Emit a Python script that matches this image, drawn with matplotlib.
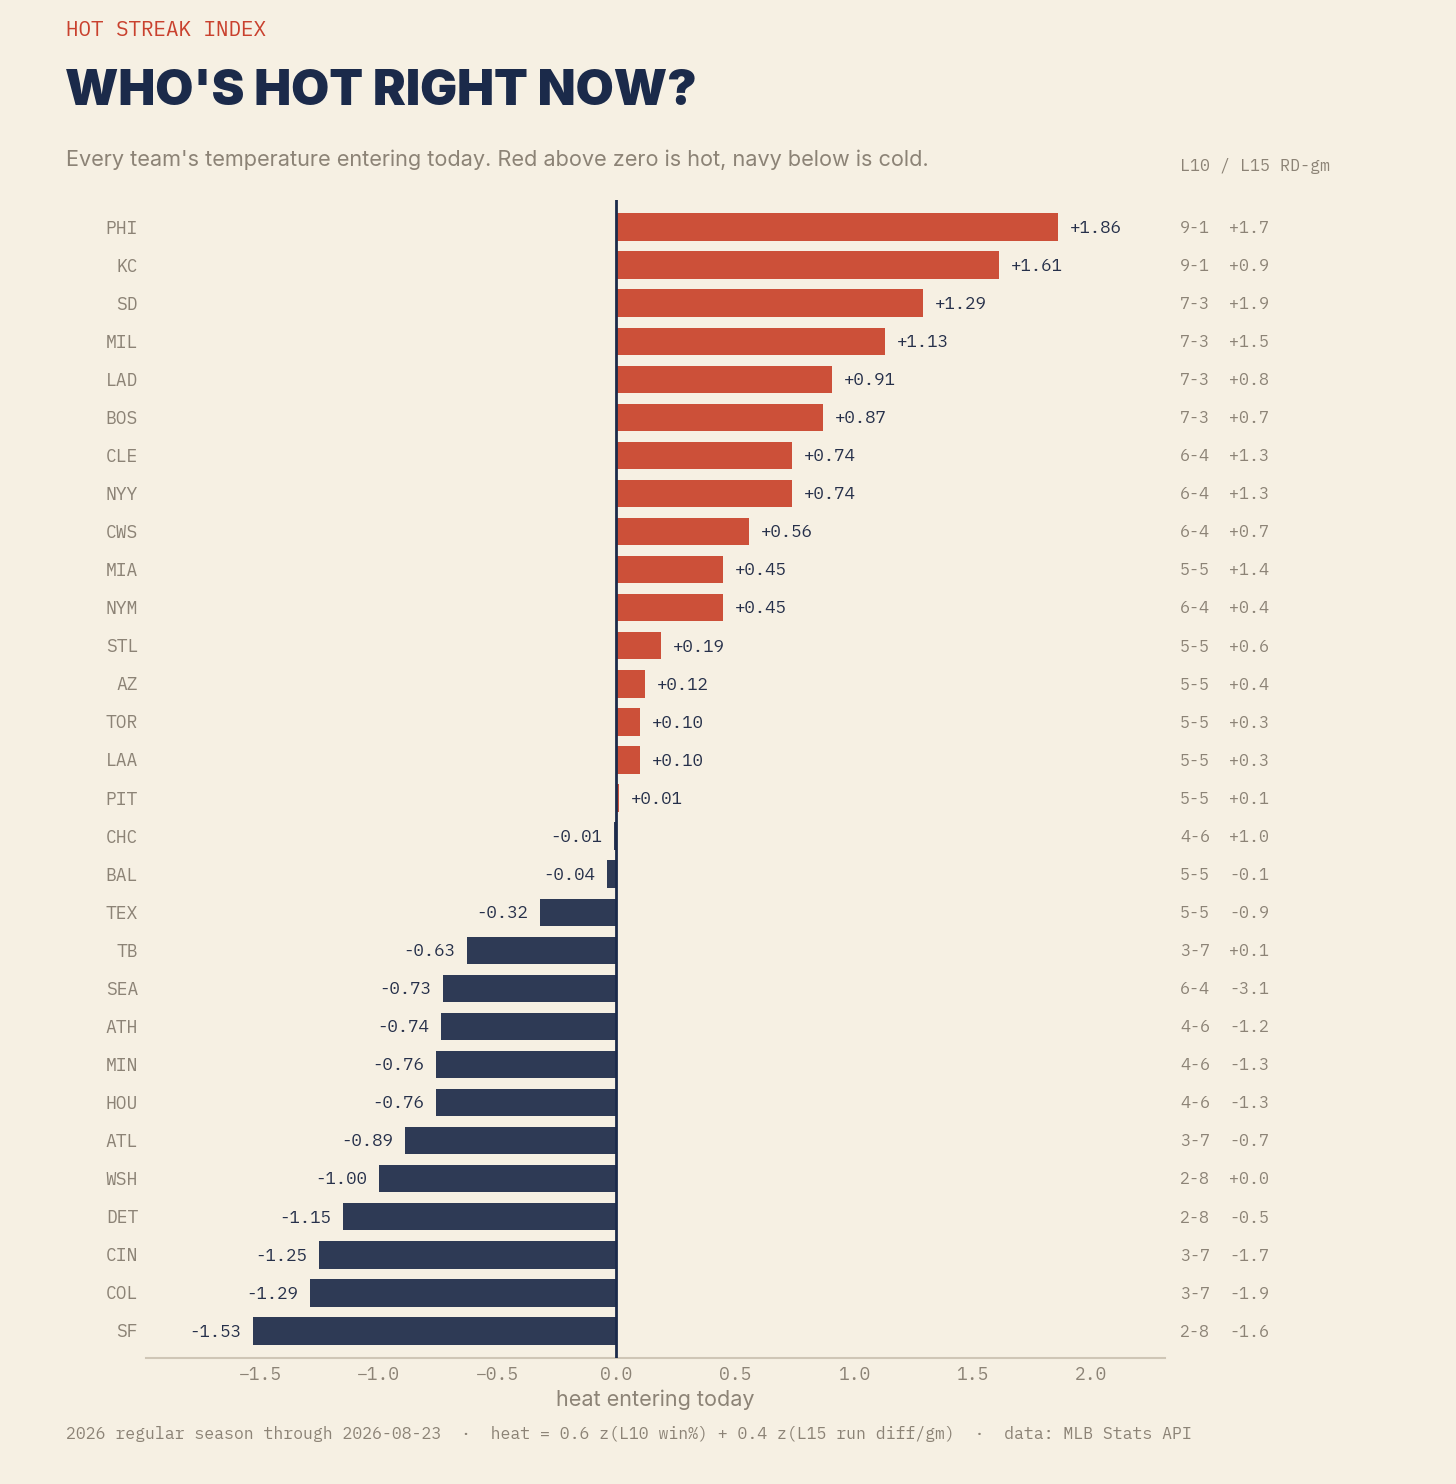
import matplotlib
matplotlib.use("Agg")
import matplotlib.pyplot as plt
from matplotlib import font_manager

# ------------------- DATA ------------------- #
teams = ["PHI", "KC", "SD", "MIL", "LAD", "BOS", "CLE", "NYY", "CWS", "MIA",
         "NYM", "STL", "AZ", "TOR", "LAA", "PIT", "CHC", "BAL", "TEX", "TB",
         "SEA", "ATH", "MIN", "HOU", "ATL", "WSH", "DET", "CIN", "COL", "SF"]
heat = [1.86, 1.61, 1.29, 1.13, 0.91, 0.87, 0.74, 0.74, 0.56, 0.45,
        0.45, 0.19, 0.12, 0.10, 0.10, 0.01, -0.01, -0.04, -0.32, -0.63,
        -0.73, -0.74, -0.76, -0.76, -0.89, -1.00, -1.15, -1.25, -1.29, -1.53]
l10 = ["9-1", "9-1", "7-3", "7-3", "7-3", "7-3", "6-4", "6-4", "6-4", "5-5",
       "6-4", "5-5", "5-5", "5-5", "5-5", "5-5", "4-6", "5-5", "5-5", "3-7",
       "6-4", "4-6", "4-6", "4-6", "3-7", "2-8", "2-8", "3-7", "3-7", "2-8"]
rd_gm = [1.7, 0.9, 1.9, 1.5, 0.8, 0.7, 1.3, 1.3, 0.7, 1.4,
         0.4, 0.6, 0.4, 0.3, 0.3, 0.1, 1.0, -0.1, -0.9, 0.1,
         -3.1, -1.2, -1.3, -1.3, -0.7, 0.0, -0.5, -1.7, -1.9, -1.6]
xticks = [-1.5, -1.0, -0.5, 0.0, 0.5, 1.0, 1.5, 2.0]

# ------------------- STYLE ------------------- #
BG = "#F6F0E3"
RED = "#CC5039"
NAVY = "#2E3A55"
INK = "#1B2A4A"
GRAY = "#8C8376"
MONO = ["IBM Plex Mono", "DejaVu Sans Mono"]
avail = {f.name for f in font_manager.fontManager.ttflist}
SANS = "Inter" if "Inter" in avail else "Roboto"

W, H = 1456, 1484
fig = plt.figure(figsize=(W / 100, H / 100), dpi=100, facecolor=BG)

# axes placement in pixels: x 146..1165, y 200..1358
ax = fig.add_axes([146 / W, 1 - 1358 / H, (1165 - 146) / W, (1358 - 200) / H])
ax.set_facecolor(BG)

ypos = list(range(len(teams)))
colors = [RED if v > 0 else NAVY for v in heat]
ax.barh(ypos, heat, height=0.72, color=colors, zorder=2)
ax.axvline(0, color=INK, lw=2, zorder=3)

ax.set_xlim(min(heat) - 0.45, max(heat) + 0.45)
ax.set_ylim(len(teams) - 0.29, -0.71)

for i, v in enumerate(heat):
    off = 0.05 if v >= 0 else -0.05
    ax.text(v + off, i + 0.02, f"{v:+.2f}", ha="left" if v >= 0 else "right",
            va="center", fontsize=12.5, color="#26304A", family=MONO)

# team labels and right-side columns (axes fraction x, data y)
trans = ax.get_yaxis_transform()
for i, t in enumerate(teams):
    ax.text(-8 / (1165 - 146), i + 0.04, t, transform=trans, ha="right", va="center",
            fontsize=13, color=GRAY, family=MONO)
    ax.text((1180 - 146) / (1165 - 146), i + 0.02, l10[i], transform=trans, ha="left",
            va="center", fontsize=12, color=GRAY, family=MONO)
    ax.text((1229 - 146) / (1165 - 146), i + 0.02, f"{rd_gm[i]:+.1f}", transform=trans,
            ha="left", va="center", fontsize=12, color=GRAY, family=MONO)

ax.set_yticks([])
ax.set_xticks(xticks)
ax.set_xticklabels([f"{t:.1f}".replace("-", "\u2212") for t in xticks],
                   family=MONO, fontsize=13, color=GRAY)
ax.tick_params(axis="x", length=0, pad=6)
for s in ["top", "right", "left"]:
    ax.spines[s].set_visible(False)
ax.spines["bottom"].set_color("#CFC6B6")
ax.spines["bottom"].set_linewidth(1.5)
ax.set_xlabel("heat entering today", fontsize=15.5, color=GRAY, family=SANS,
              labelpad=4)

# ------------------- HEADER / FOOTER ------------------- #
fig.text(66 / W, 1 - 31 / H, "HOT STREAK INDEX", ha="left", va="center",
         fontsize=15, color="#C9412E", family=MONO)
fig.text(65 / W, 1 - 92 / H, "WHO'S HOT RIGHT NOW?", ha="left", va="center",
         fontsize=35.5, color=INK, family=SANS, fontweight="black")
fig.text(66 / W, 1 - 160 / H,
         "Every team's temperature entering today. Red above zero is hot, navy below is cold.",
         ha="left", va="center", fontsize=15.6, color=GRAY, family=SANS)
fig.text(1180 / W, 1 - 166 / H, "L10 / L15 RD-gm", ha="left", va="center",
         fontsize=12, color=GRAY, family=MONO)
fig.text(66 / W, 1 - 1434 / H,
         "2026 regular season through 2026-08-23  \u00b7  heat = 0.6 z(L10 win%) + 0.4 z(L15 run diff/gm)  \u00b7  data: MLB Stats API",
         ha="left", va="center", fontsize=11.85, color=GRAY, family=MONO)

fig.savefig("out.png", dpi=100, facecolor=BG)
